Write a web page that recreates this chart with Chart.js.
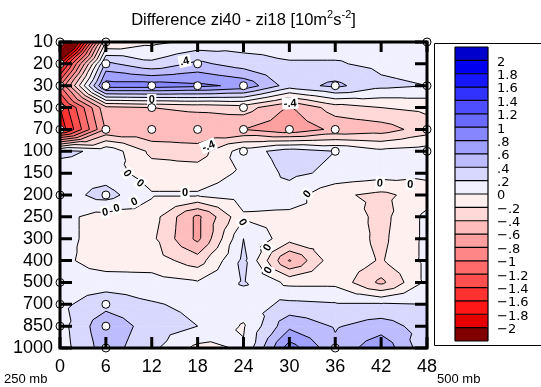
<!DOCTYPE html>
<html>
<head>
<meta charset="utf-8">
<script src="https://cdn.jsdelivr.net/npm/chart.js@4.4.1/dist/chart.umd.min.js"></script>
<style>
  html, body { margin: 0; padding: 0; background: #fff; }
  #wrap { width: 541px; height: 387px; }
</style>
</head>
<body>
<div id="wrap"><canvas id="chart" width="541" height="387"></canvas></div>
<script>
// forecast hour along x
const hours = [0, 6, 12, 18, 24, 30, 36, 42, 48];
// pressure levels (hPa), top of the plot first
const levels = ['10', '20', '30', '50', '70', '100', '150', '200', '250', '300', '400', '500', '700', '850', '1000'];

// difference zi40 - zi18, one row per level, one value per hour
const diff10   = [-3.3, -0.2, -0.05, 0.05, 0.1, 0.1, 0.1, 0.12, 0.1];
const diff20   = [-1.8, 0.45, 0.25, 0.45, 0.3, 0.22, 0.22, 0.15, 0.1];
const diff30   = [-1.0, 0.9, 0.9, 0.85, 0.75, 0.3, 0.45, 0.25, 0.2];
const diff50   = [-1.6, -0.45, -0.4, -0.35, -0.3, -0.62, -0.3, -0.2, -0.15];
const diff70   = [-1.75, -0.58, -0.58, -0.58, -0.6, -0.75, -0.55, -0.5, -0.3];
const diff100  = [0.25, 0.15, -0.25, -0.3, 0.1, 0.3, 0.2, 0.05, 0.1];
const diff150  = [0.1, 0.1, -0.1, -0.1, 0.03, 0.25, 0.15, 0.1, 0.05];
const diff200  = [0.1, 0.28, 0.02, 0.02, 0.1, 0.1, -0.16, -0.25, -0.1];
const diff250  = [0.05, -0.07, -0.1, -0.65, -0.03, -0.05, -0.02, -0.27, 0.05];
const diff300  = [0.05, -0.07, -0.15, -0.65, 0.2, -0.12, -0.05, -0.25, 0.05];
const diff400  = [0.05, -0.1, -0.1, -0.3, 0.25, -0.62, -0.05, -0.22, 0.05];
const diff500  = [0.1, 0.1, 0.08, 0.02, 0.22, -0.05, -0.05, -0.45, 0.05];
const diff700  = [0.15, 0.33, 0.22, 0.15, 0.1, 0.25, 0.22, 0.22, 0.2];
const diff850  = [0.12, 0.55, 0.3, 0.2, -0.02, 0.55, 0.38, 0.5, 0.3];
const diff1000 = [0.1, 0.5, 0.25, -0.05, 0.02, 0.9, 0.45, 0.75, 0.25];
const field = [diff10, diff20, diff30, diff50, diff70, diff100, diff150, diff200,
               diff250, diff300, diff400, diff500, diff700, diff850, diff1000];

// contour levels and the fill colour of each band (lowest band first)
const contourLevels = [-2, -1.8, -1.6, -1.4, -1.2, -1, -0.8, -0.6, -0.4, -0.2, 0,
                       0.2, 0.4, 0.6, 0.8, 1, 1.2, 1.4, 1.6, 1.8, 2];
const bandColors = ['#800000', '#e60000', '#ff1616', '#ff3232', '#ff4e4e', '#ff6a6a',
                    '#ff8686', '#ffa0a0', '#ffbcbc', '#ffd8d8', '#fff0f0',
                    '#f0f0ff', '#d8d8ff', '#bcbcff', '#a0a0ff', '#8686ff', '#6a6aff',
                    '#4e4eff', '#3232ff', '#1616ff', '#0000f0', '#0000cc'];

// observation markers
const obsHour  = [0, 0, 0, 0, 0, 0, 0, 0, 0, 6,
                  6, 18, 6, 12, 18, 24, 36, 12, 24, 6, 12, 18, 24, 30, 36, 24, 36, 6, 6, 6,
                  6, 36, 48, 48, 48, 48];
const obsLevel = ['10', '20', '30', '50', '70', '200', '500', '700', '850', '10',
                  '20', '20', '30', '30', '30', '30', '30', '50', '50', '70', '70', '70', '70', '70', '70', '100', '100', '200', '700', '850',
                  '1000', '1000', '10', '30', '70', '100'];

// contour labels: text, hour, level position, angle
const labelText  = ['.4', '0', '-.4', '-.4', '0', '0', '0', '0', '0', '0', '0', '0', '0', '0', '0', '0'];
const labelHour  = [16.3, 12.0, 30.1, 19.4, 8.8, 10.5, 5.9, 7.4, 9.7, 16.35, 32.3, 41.85, 45.8, 23.9, 27.1, 27.2];
const labelLevel = [0.87, 2.65, 2.8, 4.75, 6.0, 6.45, 7.78, 7.6, 7.3, 6.9, 6.95, 6.45, 6.5, 8.24, 9.4, 10.43];
const labelAngle = [-12, 0, -5, -22, 55, 40, -10, -15, -25, 0, -50, 5, 3, 60, -60, -60];

function fmtLevel(v) {
  if (v === 0) return '0';
  const s = Math.abs(v).toString().replace(/^0\./, '.');
  return (v < 0 ? '\u2212' : '') + s;
}

function clipPoly(poly, L, keepAbove) {
  const out = [];
  for (let k = 0; k < poly.length; k++) {
    const a = poly[k], b = poly[(k + 1) % poly.length];
    const ina = keepAbove ? a.v >= L : a.v <= L;
    const inb = keepAbove ? b.v >= L : b.v <= L;
    if (ina) out.push(a);
    if (ina !== inb) {
      const t = (L - a.v) / (b.v - a.v);
      out.push({ x: a.x + t * (b.x - a.x), y: a.y + t * (b.y - a.y), v: L });
    }
  }
  return out;
}

function nudge(v) {
  for (const L of contourLevels) {
    if (Math.abs(v - L) < 1e-7) return v + 1e-5;
  }
  return v;
}

const contourPlugin = {
  id: 'contours',
  beforeDatasetsDraw(chart) {
    const { ctx, chartArea, scales } = chart;
    const xs = scales.x, ys = scales.y;
    const tris = [];
    for (let j = 0; j < levels.length - 1; j++) {
      for (let i = 0; i < hours.length - 1; i++) {
        const p = (ii, jj) => ({
          x: xs.getPixelForValue(hours[ii]),
          y: ys.getPixelForValue(jj),
          v: nudge(field[jj][ii])
        });
        const a = p(i, j), b = p(i + 1, j), c = p(i + 1, j + 1), d = p(i, j + 1);
        const m = { x: (a.x + c.x) / 2, y: (a.y + c.y) / 2, v: nudge((a.v + b.v + c.v + d.v) / 4) };
        tris.push([a, b, m], [b, c, m], [c, d, m], [d, a, m]);
      }
    }
    ctx.save();
    ctx.beginPath();
    ctx.rect(chartArea.left, chartArea.top, chartArea.width, chartArea.height);
    ctx.clip();
    ctx.lineJoin = 'round';
    // filled bands
    tris.forEach(tri => {
      const vmin = Math.min(tri[0].v, tri[1].v, tri[2].v);
      const vmax = Math.max(tri[0].v, tri[1].v, tri[2].v);
      for (let b = 0; b < bandColors.length; b++) {
        const lo = b === 0 ? -Infinity : contourLevels[b - 1];
        const hi = b === bandColors.length - 1 ? Infinity : contourLevels[b];
        if (vmax < lo || vmin > hi) continue;
        let poly = tri;
        if (lo > -Infinity) poly = clipPoly(poly, lo, true);
        if (poly.length < 3) continue;
        if (hi < Infinity) poly = clipPoly(poly, hi, false);
        if (poly.length < 3) continue;
        ctx.beginPath();
        ctx.moveTo(poly[0].x, poly[0].y);
        for (let k = 1; k < poly.length; k++) ctx.lineTo(poly[k].x, poly[k].y);
        ctx.closePath();
        ctx.fillStyle = bandColors[b];
        ctx.strokeStyle = bandColors[b];
        ctx.lineWidth = 0.6;
        ctx.fill();
        ctx.stroke();
      }
    });
    // contour lines
    ctx.strokeStyle = '#000';
    ctx.lineWidth = 1;
    ctx.beginPath();
    tris.forEach(tri => {
      contourLevels.forEach(L => {
        const pts = [];
        for (let k = 0; k < 3; k++) {
          const a = tri[k], b = tri[(k + 1) % 3];
          if ((a.v - L) * (b.v - L) < 0) {
            const t = (L - a.v) / (b.v - a.v);
            pts.push({ x: a.x + t * (b.x - a.x), y: a.y + t * (b.y - a.y) });
          }
        }
        if (pts.length === 2) {
          ctx.moveTo(pts[0].x, pts[0].y);
          ctx.lineTo(pts[1].x, pts[1].y);
        }
      });
    });
    ctx.stroke();
    // contour labels
    ctx.font = 'bold 11px "Liberation Sans", Arial, sans-serif';
    ctx.textAlign = 'center';
    ctx.textBaseline = 'middle';
    labelText.forEach((t, k) => {
      const x = xs.getPixelForValue(labelHour[k]);
      const y = ys.getPixelForValue(labelLevel[k]);
      ctx.save();
      ctx.translate(x, y);
      ctx.rotate(labelAngle[k] * Math.PI / 180);
      const w = ctx.measureText(t).width + 3;
      ctx.fillStyle = '#fff';
      ctx.fillRect(-w / 2, -6, w, 12);
      ctx.fillStyle = '#000';
      ctx.fillText(t, 0, 0.5);
      ctx.restore();
    });
    ctx.restore();
  }
};

const framePlugin = {
  id: 'frame',
  afterDatasetsDraw(chart) {
    const { ctx, chartArea: ca, scales } = chart;
    ctx.save();
    ctx.strokeStyle = '#000';
    ctx.lineWidth = 3;
    ctx.beginPath();
    levels.forEach((l, j) => {
      const y = scales.y.getPixelForValue(j);
      ctx.moveTo(ca.left, y); ctx.lineTo(ca.left + 12, y);
      ctx.moveTo(ca.right, y); ctx.lineTo(ca.right - 12, y);
    });
    hours.forEach(h => {
      const x = scales.x.getPixelForValue(h);
      ctx.moveTo(x, ca.bottom); ctx.lineTo(x, ca.bottom - 11);
      ctx.moveTo(x, ca.top); ctx.lineTo(x, ca.top + 10);
    });
    ctx.stroke();
    ctx.strokeRect(ca.left, ca.top, ca.width, ca.height);
    ctx.restore();
  },
  afterDraw(chart) {
    const { ctx, chartArea: ca } = chart;
    ctx.save();
    // title with superscripts
    const parts = [['Difference zi40 - zi18 [10m', false], ['2', true], ['s', false], ['-2', true], [']', false]];
    const big = '16.5px "Liberation Sans", Arial, sans-serif';
    const small = '11px "Liberation Sans", Arial, sans-serif';
    let total = 0;
    parts.forEach(p => { ctx.font = p[1] ? small : big; total += ctx.measureText(p[0]).width; });
    let x = (ca.left + ca.right) / 2 - total / 2;
    ctx.fillStyle = '#000';
    ctx.textBaseline = 'alphabetic';
    ctx.textAlign = 'left';
    parts.forEach(p => {
      ctx.font = p[1] ? small : big;
      ctx.fillText(p[0], x, p[1] ? 18 : 25);
      x += ctx.measureText(p[0]).width;
    });
    // side notes
    ctx.font = '13px "Liberation Sans", Arial, sans-serif';
    ctx.fillText('250 mb', 4, 383);
    ctx.fillText('500 mb', 437, 383);
    // colour bar panel
    ctx.strokeStyle = '#000';
    ctx.lineWidth = 1;
    ctx.beginPath();
    ctx.moveTo(541, 43.5); ctx.lineTo(434.5, 43.5); ctx.lineTo(434.5, 345.5); ctx.lineTo(541, 345.5);
    ctx.stroke();
    const top = 47, bottom = 341, bx = 455, bw = 33;
    const n = bandColors.length;
    const h = (bottom - top) / n;
    for (let b = 0; b < n; b++) {
      const y = top + (n - 1 - b) * h;
      ctx.fillStyle = bandColors[b];
      ctx.fillRect(bx, y, bw, h);
    }
    ctx.lineWidth = 1.2;
    ctx.beginPath();
    for (let k = 0; k <= n; k++) {
      const y = top + k * h;
      ctx.moveTo(bx, y); ctx.lineTo(bx + bw, y);
    }
    ctx.moveTo(bx, top); ctx.lineTo(bx, bottom);
    ctx.moveTo(bx + bw, top); ctx.lineTo(bx + bw, bottom);
    ctx.stroke();
    ctx.fillStyle = '#000';
    ctx.font = '13px "DejaVu Sans", sans-serif';
    ctx.textBaseline = 'middle';
    contourLevels.forEach((L, k) => {
      const y = top + (n - 1 - k) * h;
      ctx.fillText(fmtLevel(L), 497, y + 2);
    });
    ctx.restore();
  }
};

const obsPoints = obsHour.map((h, k) => ({ x: h, y: levels.indexOf(obsLevel[k]) }));

const ctx = document.getElementById('chart').getContext('2d');
new Chart(ctx, {
  type: 'scatter',
  data: {
    datasets: [{
      data: obsPoints,
      pointRadius: 4,
      pointBackgroundColor: '#fff',
      pointBorderColor: '#000',
      pointBorderWidth: 1,
      clip: false
    }]
  },
  options: {
    responsive: false,
    animation: false,
    devicePixelRatio: 1,
    layout: { padding: { top: 42, right: 114, left: 0, bottom: 0 } },
    plugins: {
      legend: { display: false },
      tooltip: { enabled: false },
      title: { display: false }
    },
    scales: {
      x: {
        type: 'linear',
        min: 0,
        max: 48,
        afterBuildTicks: s => { s.ticks = hours.map(v => ({ value: v })); },
        afterFit: s => { s.height = 39; },
        grid: { display: false, drawTicks: false },
        border: { display: false },
        ticks: {
          color: '#000',
          padding: 8,
          maxRotation: 0,
          autoSkip: false,
          font: { family: '"Liberation Sans", Arial, sans-serif', size: 18 }
        }
      },
      y: {
        type: 'linear',
        min: 0,
        max: 14,
        reverse: true,
        afterBuildTicks: s => { s.ticks = levels.map((l, j) => ({ value: j })); },
        afterFit: s => { s.width = 60; },
        grid: { display: false, drawTicks: false },
        border: { display: false },
        ticks: {
          color: '#000',
          padding: 7,
          autoSkip: false,
          callback: v => levels[v],
          font: { family: '"Liberation Sans", Arial, sans-serif', size: 18 }
        }
      }
    }
  },
  plugins: [contourPlugin, framePlugin]
});
</script>
</body>
</html>
